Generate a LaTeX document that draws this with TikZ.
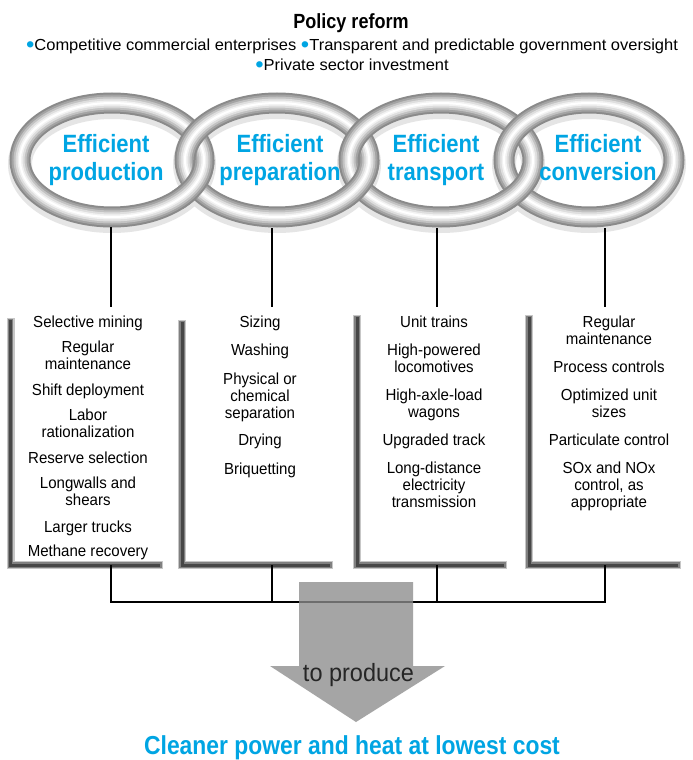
\documentclass[tikz,border=0pt]{standalone}
\usepackage{fontspec}
\setmainfont{Liberation Sans}
\newfontfamily\bodyf{Liberation Sans}[FakeStretch=0.94]
\newfontfamily\headf{Liberation Sans}[FakeStretch=1.03]
\newfontfamily\condf{Liberation Sans}[FakeStretch=0.88]
\newfontfamily\prodf{Liberation Sans}[FakeStretch=0.94]
\definecolor{eblue}{RGB}{0,165,227}
\definecolor{arrowgray}{RGB}{140,140,140}
\newcommand\bigbul{\textcolor{eblue}{\raisebox{-2.2pt}{\scalebox{1.45}{\textbullet}}}}
\newcommand\tubering[3]{%
  \draw[black!46, line width=21pt] (#1,#2) ellipse [x radius=#3 pt, y radius=57pt];
  \draw[black!36, line width=17pt] (#1,#2) ellipse [x radius=#3 pt, y radius=57pt];
  \draw[black!24, line width=13pt] (#1,#2) ellipse [x radius=#3 pt, y radius=57pt];
  \draw[black!13, line width=9pt] (#1,#2) ellipse [x radius=#3 pt, y radius=57pt];
  \draw[black!5, line width=5pt] (#1,#2) ellipse [x radius=#3 pt, y radius=57pt];
  \draw[white, line width=2pt] (#1,#2) ellipse [x radius=#3 pt, y radius=57pt];
}
\begin{document}
\begin{tikzpicture}[x=1pt,y=-1pt,
  conn/.style={line width=2.6pt, black, line join=miter},
  frameA/.style={line width=8pt, black!22},
  frameB/.style={line width=5.5pt, black!50},
  frameC/.style={line width=3pt, black!72},
  colarea/.style={draw=none, inner sep=0, anchor=north west, minimum height=258pt},
  ringlabel/.style={font={\condf\bfseries\fontsize{25}{28}\selectfont}, text=eblue, align=center, inner sep=0, anchor=north},
  item/.style={font={\bodyf\fontsize{16}{17}\selectfont}, align=center, inner sep=0, anchor=north},
  headline/.style={font={\headf\fontsize{16}{18}\selectfont}, inner sep=0, anchor=base},
  arrowfill/.style={fill=arrowgray, fill opacity=0.78}]
\useasboundingbox (0,0) rectangle (693,760);
\fill[white] (0,0) rectangle (693,760);

% header
\node[font={\condf\bfseries\fontsize{20.5}{24}\selectfont}, inner sep=0, anchor=base] (policy) at (351,28.5) {Policy reform};
\node[headline] (bl1) at (352,50.5) {\bigbul Competitive commercial enterprises \bigbul Transparent and predictable government oversight};
\node[headline] (bl2) at (352,70.5) {\bigbul Private sector investment};

% ring shadows
\foreach \cx/\rx in {112/92, 277/92, 441/92, 589/85}
  \draw[black!10, line width=24pt] (\cx,164) ellipse [x radius=\rx pt, y radius=57pt];
% rings
\tubering{112}{160}{92}
\tubering{277}{160}{92}
\tubering{441}{160}{92}
\tubering{589}{160}{85}
% interlocking: earlier ring in front at lower crossing
\begin{scope}
  \clip (172,160) rectangle (218,208);
  \tubering{112}{160}{92}
\end{scope}
\begin{scope}
  \clip (337,160) rectangle (382,208);
  \tubering{277}{160}{92}
\end{scope}
\begin{scope}
  \clip (495,165) rectangle (541,215);
  \tubering{441}{160}{92}
\end{scope}

% ring labels
\node[ringlabel] (lab1) at (106,134) {Efficient\\production};
\node[ringlabel] (lab2) at (280,134) {Efficient\\preparation};
\node[ringlabel] (lab3) at (436,134) {Efficient\\transport};
\node[ringlabel] (lab4) at (598,134) {Efficient\\conversion};

% column areas
\node[colarea, minimum width=153pt] (col1) at (10.5,307) {};
\node[colarea, minimum width=151pt] (col2) at (182,307) {};
\node[colarea, minimum width=150pt] (col3) at (357,307) {};
\node[colarea, minimum width=152pt] (col4) at (529,307) {};

% column frames
\foreach \vx/\ty/\ex in {10.5/318/163, 182/320/333, 357/315/507, 529/315/681} {
  \draw[frameA] (\vx,\ty) -- (\vx,565) -- (\ex,565);
  \draw[frameB] (\vx,\ty+1) -- (\vx,565) -- (\ex-1,565);
  \draw[frameC] (\vx,\ty+2) -- (\vx,565) -- (\ex-3,565);
}

% column 1
\node[item] (a1) at (88,315.3) {Selective mining};
\node[item] (a2) at (88,340.8) {Regular\\maintenance};
\node[item] (a3) at (88,383.8) {Shift deployment};
\node[item] (a4) at (88,408.8) {Labor\\rationalization};
\node[item] (a5) at (88,451.8) {Reserve selection};
\node[item] (a6) at (88,476.3) {Longwalls and\\shears};
\node[item] (a7) at (88,520.3) {Larger trucks};
\node[item] (a8) at (88,544.3) {Methane recovery};
% column 2
\node[item] (b1) at (260,315.3) {Sizing};
\node[item] (b2) at (260,343.8) {Washing};
\node[item] (b3) at (260,372.8) {Physical or\\chemical\\separation};
\node[item] (b4) at (260,433.8) {Drying};
\node[item] (b5) at (260,462.3) {Briquetting};
% column 3
\node[item] (c1) at (434,315.3) {Unit trains};
\node[item] (c2) at (434,343.8) {High-powered\\locomotives};
\node[item] (c3) at (434,388.3) {High-axle-load\\wagons};
\node[item] (c4) at (434,433.3) {Upgraded track};
\node[item] (c5) at (434,461.8) {Long-distance\\electricity\\transmission};
% column 4
\node[item] (d1) at (609,315.3) {Regular\\maintenance};
\node[item] (d2) at (609,360.3) {Process controls};
\node[item] (d3) at (609,388.3) {Optimized unit\\sizes};
\node[item] (d4) at (609,433.3) {Particulate control};
\node[item] (d5) at (609,461.8) {SOx and NOx\\control, as\\appropriate};

% connectors
\coordinate (t1) at (111,227);
\coordinate (t2) at (272,228);
\coordinate (t3) at (437,228);
\coordinate (t4) at (605,228);
\coordinate (bus) at (0,602);
\draw[conn] (t1) -- (t1 |- col1.north);
\draw[conn] (t2) -- (t2 |- col2.north);
\draw[conn] (t3) -- (t3 |- col3.north);
\draw[conn] (t4) -- (t4 |- col4.north);
\draw[conn] (t1 |- col1.south) -- (t1 |- bus) -- (t4 |- bus) -- (t4 |- col4.south);
\draw[conn] (t2 |- col2.south) -- (t2 |- bus);
\draw[conn] (t3 |- col3.south) -- (t3 |- bus);

% big arrow
\fill[arrowfill] (299,582) -- (413,582) -- (413,666) -- (445,666) -- (356,722) -- (270,666) -- (299,666) -- cycle;
\node[font={\prodf\fontsize{25}{28}\selectfont}, text=black!85, inner sep=0, anchor=base] (prod) at (358.5,681) {to produce};
\node[font={\condf\bfseries\fontsize{26}{30}\selectfont}, text=eblue, inner sep=0, anchor=base] (result) at (352,754) {Cleaner power and heat at lowest cost};
\end{tikzpicture}
\end{document}
